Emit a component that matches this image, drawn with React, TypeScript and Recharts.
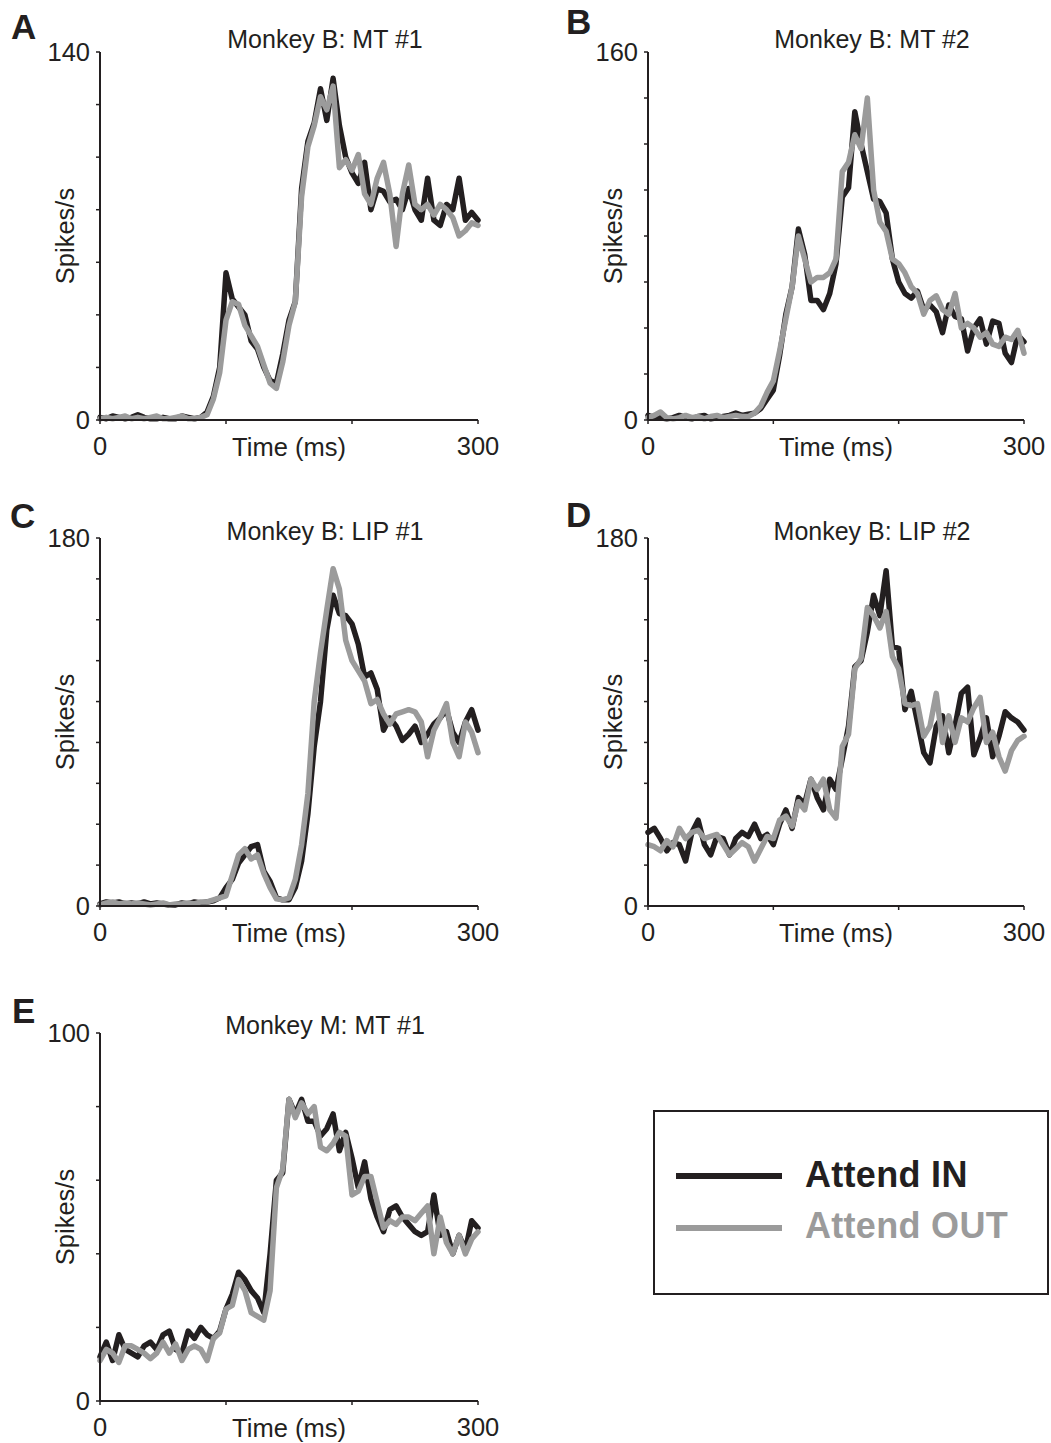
import { Label, Line, LineChart, XAxis, YAxis } from "recharts";

const FONT = '"Liberation Sans", Arial, Helvetica, sans-serif';
const INK = "#231f20";
const GREY = "#9b9b9b";
const TXT = 25.5;

// time bins (ms), one sample every 5 ms
const timesMs = [
  0, 5, 10, 15, 20, 25, 30, 35, 40, 45, 50, 55, 60, 65, 70, 75, 80, 85, 90, 95,
  100, 105, 110, 115, 120, 125, 130, 135, 140, 145, 150, 155, 160, 165, 170,
  175, 180, 185, 190, 195, 200, 205, 210, 215, 220, 225, 230, 235, 240, 245,
  250, 255, 260, 265, 270, 275, 280, 285, 290, 295, 300,
];
const xTicks = [0, 100, 200, 300];

const yTicks140 = [0, 20, 40, 60, 80, 100, 120, 140];
const yTicks160 = [0, 20, 40, 60, 80, 100, 120, 140, 160];
const yTicks180 = [0, 20, 40, 60, 80, 100, 120, 140, 160, 180];
const yTicks100 = [0, 20, 40, 60, 80, 100];

// A: Monkey B, MT #1
const mt1InB = [
  1, 0.5, 1.5, 1, 0.5, 1, 2, 1, 0.5, 0.5, 1, 0.5, 0.5, 1.5, 1, 0.5, 1,
  3, 9, 20, 56, 46, 43, 40, 30, 27, 20, 15, 14, 25, 38, 45, 88, 106, 113, 126,
  114, 130, 112, 100, 94, 90, 98, 80, 88, 87, 83, 84, 80, 88, 80, 76, 92, 76,
  74, 82, 80, 92, 76, 79, 76,
];
const mt1OutB = [
  0.5, 1, 0.5, 1, 1.5, 0.5, 1, 0.5, 1, 1.5, 0.5, 0.5, 1, 1.5, 0.5, 0.5, 1,
  2, 8, 18, 38, 45, 44, 36, 32, 28, 21, 14, 12, 22, 36, 45, 85, 104, 112, 123,
  118, 127, 96, 99, 95, 101, 86, 82, 92, 98, 86, 66, 86, 97, 82, 80, 82, 78,
  82, 80, 77, 70, 72, 75, 74,
];

// B: Monkey B, MT #2
const mt2InB = [
  2, 1, 1, 0.5, 1, 2, 1, 0.5, 1.5, 2, 0.5, 1, 1.5, 2, 3, 2, 2.5,
  3, 5, 9, 13, 28, 46, 58, 83, 72, 52, 52, 48, 55, 68, 97, 101, 134, 120, 108,
  96, 95, 90, 70, 60, 55, 53, 56, 48, 50, 47, 38, 50, 45, 44, 30, 40, 44, 33,
  43, 42, 29, 25, 37, 34,
];
const mt2OutB = [
  1, 2, 3.5, 1, 0.5, 1, 2, 1, 1.5, 0.5, 1.5, 2, 1, 1.5, 2, 1.5, 1.5,
  3, 6, 12, 17, 30, 44, 58, 80, 70, 60, 62, 62, 64, 70, 108, 112, 124, 118,
  140, 100, 86, 82, 70, 68, 64, 58, 55, 46, 52, 54, 48, 46, 55, 40, 42, 40, 36,
  38, 33, 32, 36, 35, 39, 29,
];

// C: Monkey B, LIP #1
const lip1InB = [
  1, 2, 1.5, 2, 1, 1.5, 1, 2, 1, 1.5, 1, 0.5, 0.5, 1.5, 1, 2, 1.5,
  2, 2.5, 4, 9, 13, 21, 25, 29, 30, 17, 12, 4, 3, 3, 9, 22, 45, 78, 100, 135,
  152, 143, 142, 138, 128, 112, 114, 106, 86, 92, 88, 81, 84, 88, 80, 84, 89,
  92, 96, 85, 80, 90, 96, 86,
];
const lip1OutB = [
  0.5, 1.5, 2, 1, 1.5, 1, 1.5, 1, 0.5, 1, 1.5, 0.5, 1, 1, 1.5, 1, 2,
  2, 3, 4, 5, 15, 25, 28, 23, 25, 16, 9, 3.5, 3, 4, 13, 30, 55, 100, 124, 145,
  165, 155, 130, 120, 115, 110, 99, 101, 94, 89, 94, 95, 96, 95, 90, 73, 86,
  92, 99, 80, 73, 90, 85, 75,
];

// D: Monkey B, LIP #2
const lip2InB = [
  36, 38, 33, 27, 31, 30, 22, 36, 42, 30, 25, 34, 33, 25, 33, 36, 34, 40, 33,
  35, 30, 40, 47, 38, 53, 50, 62, 53, 47, 62, 57, 72, 88, 117, 120, 134, 152,
  142, 164, 127, 126, 96, 105, 90, 75, 70, 88, 93, 75, 88, 104, 107, 74, 82,
  92, 73, 83, 95, 92, 90, 86,
];
const lip2OutB = [
  30, 29, 27, 32, 29, 38, 33, 36, 37, 33, 34, 35, 30, 25, 28, 31, 29, 22, 28,
  34, 33, 42, 44, 39, 51, 47, 62, 57, 62, 47, 43, 78, 84, 116, 121, 146, 142,
  136, 144, 122, 116, 99, 98, 99, 83, 88, 104, 80, 93, 80, 92, 90, 97, 102, 80,
  85, 73, 66, 76, 81, 83,
];

// E: Monkey M, MT #1
const mt1InM = [
  12, 16, 11, 18, 14, 13, 12, 15, 16, 14, 18, 19, 14, 13, 19, 17, 20, 18, 17,
  19, 25, 29, 35, 33, 30, 28, 24, 40, 60, 62, 82, 78, 82, 76, 76, 72, 74, 78,
  68, 73, 66, 58, 65, 55, 50, 46, 52, 53, 50, 48, 46, 45, 46, 56, 45, 46, 40,
  45, 41, 49, 47,
];
const mt1OutM = [
  11, 14, 13, 10.5, 15, 15, 14, 13, 11.5, 13, 16, 13, 15.5, 11, 14, 15, 14, 11,
  17, 18.5, 25, 26, 33, 30, 24, 23, 22, 30, 58, 63, 82, 77, 81, 78, 80, 69, 68,
  70, 73, 72, 56, 57, 61, 61, 54, 47, 49, 48, 50, 50, 49, 51, 53, 40, 50, 43,
  40, 45, 40, 44, 46,
];

const panels = [
  { key: "A", title: "Monkey B: MT #1", left: 0, top: 0, plotW: 378, yMax: 140, yTicks: yTicks140, attendIn: mt1InB, attendOut: mt1OutB, titleY: 48 },
  { key: "B", title: "Monkey B: MT #2", left: 548, top: 0, plotW: 376, yMax: 160, yTicks: yTicks160, attendIn: mt2InB, attendOut: mt2OutB, titleY: 48 },
  { key: "C", title: "Monkey B: LIP #1", left: 0, top: 486, plotW: 378, yMax: 180, yTicks: yTicks180, attendIn: lip1InB, attendOut: lip1OutB, titleY: 540 },
  { key: "D", title: "Monkey B: LIP #2", left: 548, top: 486, plotW: 376, yMax: 180, yTicks: yTicks180, attendIn: lip2InB, attendOut: lip2OutB, titleY: 540 },
  { key: "E", title: "Monkey M: MT #1", left: 0, top: 981, plotW: 378, yMax: 100, yTicks: yTicks100, attendIn: mt1InM, attendOut: mt1OutM, titleY: 1034 },
];

const letters = [
  { text: "A", x: 11, y: 39 },
  { text: "B", x: 566, y: 34 },
  { text: "C", x: 10, y: 528 },
  { text: "D", x: 566, y: 527 },
  { text: "E", x: 12, y: 1023 },
];

const CHART_W = 520;
const CHART_H = 480;

function XTickLabel(props: any) {
  const { x, y, payload } = props;
  if (payload.value !== 0 && payload.value !== 300) return <g />;
  return (
    <text x={x} y={y} dy="0.71em" textAnchor="middle" fontSize={TXT} fill={INK} fontFamily={FONT}>
      {payload.value}
    </text>
  );
}

function YTickLabel(props: any) {
  const { x, y, payload, yMax } = props;
  if (payload.value !== 0 && payload.value !== yMax) return <g />;
  return (
    <text x={x} y={y} dy="0.355em" textAnchor="end" fontSize={TXT} fill={INK} fontFamily={FONT}>
      {payload.value}
    </text>
  );
}

function Panel({ p }: { p: (typeof panels)[number] }) {
  const data = timesMs.map((t, i) => ({ t, attendIn: p.attendIn[i], attendOut: p.attendOut[i] }));
  return (
    <div style={{ position: "absolute", left: p.left, top: p.top, width: CHART_W, height: CHART_H }}>
      <LineChart
        width={CHART_W}
        height={CHART_H}
        data={data}
        margin={{ top: 52, right: CHART_W - 100 - p.plotW, bottom: 20, left: 30 }}
      >
        <XAxis
          dataKey="t"
          type="number"
          domain={[0, 300]}
          ticks={xTicks}
          interval={0}
          height={40}
          tickSize={4}
          tickMargin={13}
          axisLine={{ stroke: INK, strokeWidth: 2 }}
          tickLine={{ stroke: INK, strokeWidth: 1.5 }}
          tick={(props: any) => <XTickLabel {...props} />}
        >
          <Label value="Time (ms)" position="insideBottom" offset={4} fontSize={TXT} fill={INK} fontFamily={FONT} />
        </XAxis>
        <YAxis
          type="number"
          domain={[0, p.yMax]}
          ticks={p.yTicks}
          interval={0}
          width={70}
          tickSize={4}
          tickMargin={6}
          axisLine={{ stroke: INK, strokeWidth: 2 }}
          tickLine={{ stroke: INK, strokeWidth: 1.5 }}
          tick={(props: any) => <YTickLabel {...props} yMax={p.yMax} />}
        >
          <Label value="Spikes/s" angle={-90} position="center" fontSize={TXT} fill={INK} fontFamily={FONT} />
        </YAxis>
        <Line
          type="linear"
          dataKey="attendIn"
          stroke={INK}
          strokeWidth={5.5}
          strokeLinejoin="round"
          strokeLinecap="round"
          dot={false}
          activeDot={false}
          isAnimationActive={false}
        />
        <Line
          type="linear"
          dataKey="attendOut"
          stroke={GREY}
          strokeWidth={5.5}
          strokeLinejoin="round"
          strokeLinecap="round"
          dot={false}
          activeDot={false}
          isAnimationActive={false}
        />
      </LineChart>
    </div>
  );
}

export default function App() {
  return (
    <div style={{ position: "absolute", left: 0, top: 0, width: 1051, height: 1443, background: "#fff", fontFamily: FONT }}>
      {panels.map((p) => (
        <Panel key={p.key} p={p} />
      ))}
      <svg width={1051} height={1443} style={{ position: "absolute", left: 0, top: 0, pointerEvents: "none" }}>
        {letters.map((l) => (
          <text key={l.text} x={l.x} y={l.y} fontSize={35} fontWeight="bold" fill={INK} fontFamily={FONT}>
            {l.text}
          </text>
        ))}
        {panels.map((p) => (
          <text
            key={p.key}
            x={p.left + 100 + p.plotW / 2 + 36}
            y={p.titleY}
            textAnchor="middle"
            fontSize={25}
            fill={INK}
            fontFamily={FONT}
          >
            {p.title}
          </text>
        ))}
        <rect x={654} y={1111} width={394} height={183} fill="none" stroke={INK} strokeWidth={2} />
        <line x1={676} y1={1176} x2={782} y2={1176} stroke={INK} strokeWidth={6} />
        <line x1={676} y1={1228} x2={782} y2={1228} stroke={GREY} strokeWidth={6} />
        <text x={805} y={1187} fontSize={36} fontWeight="bold" letterSpacing={0.3} fill={INK} fontFamily={FONT}>
          Attend IN
        </text>
        <text x={805} y={1238} fontSize={36} fontWeight="bold" letterSpacing={0.3} fill={GREY} fontFamily={FONT}>
          Attend OUT
        </text>
      </svg>
    </div>
  );
}
